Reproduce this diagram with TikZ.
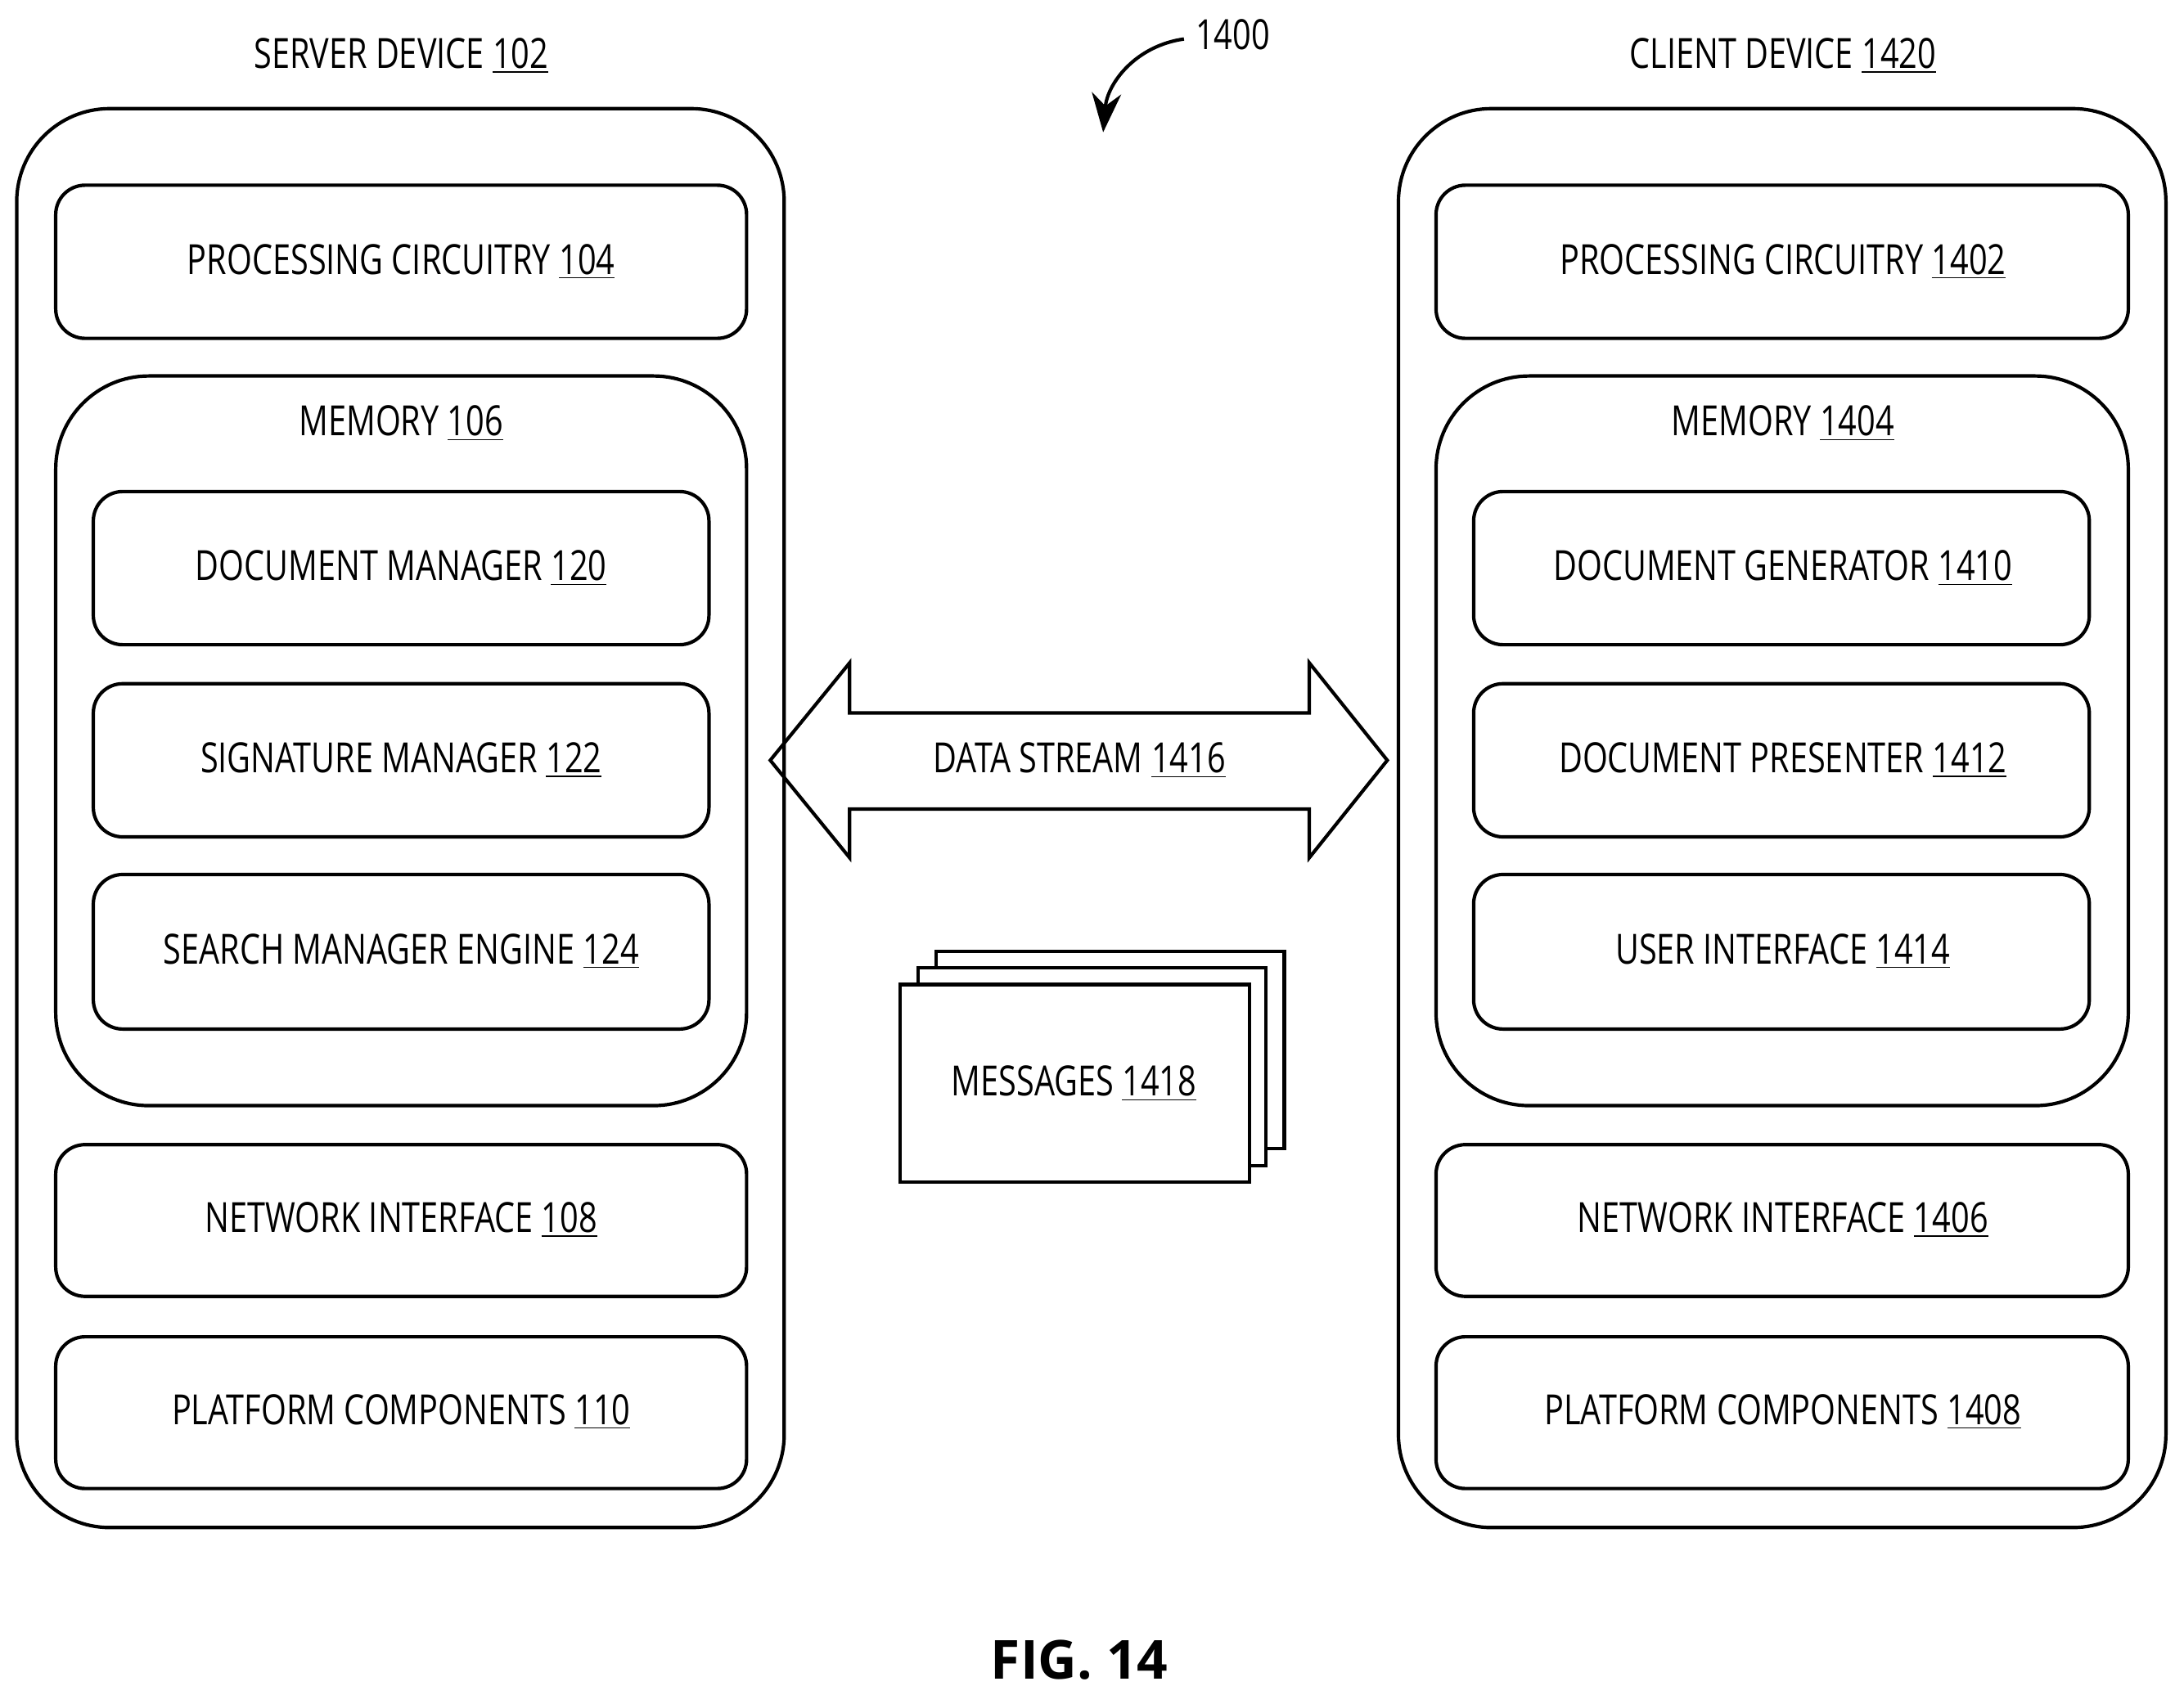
\documentclass[tikz,border=0pt]{standalone}
\usetikzlibrary{arrows.meta}
\usepackage{fontspec}
\setmainfont{Open Sans}
\usepackage{graphicx}
\begin{document}
\newcommand{\lb}[2]{\scalebox{0.78}[1]{#1 \underline{#2}}}
\begin{tikzpicture}[x=0.02cm,y=-0.02cm,line width=1.4pt,
  box/.style={draw,rounded corners=12},
  big/.style={draw,rounded corners=38},
  txt/.style={font=\fontsize{17}{20}\selectfont},
  ]
\useasboundingbox (0,0) rectangle (1568,1217);
% server
\draw[big] (12,78) rectangle (563,1097);
\node[txt] (st) at (288,40) {\lb{SERVER DEVICE}{102}};
\draw[box] (40,133) rectangle (536,243); \node[txt] (sp) at (288,188) {\lb{PROCESSING CIRCUITRY}{104}};
\draw[big] (40,270) rectangle (536,794); \node[txt] (sm) at (288,304) {\lb{MEMORY}{106}};
\draw[box] (67,353) rectangle (509,463); \node[txt] (s1) at (288,408) {\lb{DOCUMENT MANAGER}{120}};
\draw[box] (67,491) rectangle (509,601); \node[txt] (s2) at (288,546) {\lb{SIGNATURE MANAGER}{122}};
\draw[box] (67,628) rectangle (509,739); \node[txt] (s3) at (288,683) {\lb{SEARCH MANAGER ENGINE}{124}};
\draw[box] (40,822) rectangle (536,931); \node[txt] (sn) at (288,876) {\lb{NETWORK INTERFACE}{108}};
\draw[box] (40,960) rectangle (536,1069); \node[txt] (sf) at (288,1014) {\lb{PLATFORM COMPONENTS}{110}};
% client
\draw[big] (1004,78) rectangle (1555,1097);
\node[txt] (ct) at (1280,40) {\lb{CLIENT DEVICE}{1420}};
\draw[box] (1031,133) rectangle (1528,243); \node[txt] (cp) at (1280,188) {\lb{PROCESSING CIRCUITRY}{1402}};
\draw[big] (1031,270) rectangle (1528,794); \node[txt] (cm) at (1280,304) {\lb{MEMORY}{1404}};
\draw[box] (1058,353) rectangle (1500,463); \node[txt] (c1) at (1280,408) {\lb{DOCUMENT GENERATOR}{1410}};
\draw[box] (1058,491) rectangle (1500,601); \node[txt] (c2) at (1280,546) {\lb{DOCUMENT PRESENTER}{1412}};
\draw[box] (1058,628) rectangle (1500,739); \node[txt] (c3) at (1280,683) {\lb{USER INTERFACE}{1414}};
\draw[box] (1031,822) rectangle (1528,931); \node[txt] (cn) at (1280,876) {\lb{NETWORK INTERFACE}{1406}};
\draw[box] (1031,960) rectangle (1528,1069); \node[txt] (cf) at (1280,1014) {\lb{PLATFORM COMPONENTS}{1408}};
% data stream
\draw[line join=miter] (553,546) -- (610,476) -- (610,512) -- (940,512) -- (940,476) -- (996,546)
  -- (940,616) -- (940,581) -- (610,581) -- (610,616) -- cycle;
\node[txt] (ds) at (775,546) {\lb{DATA STREAM}{1416}};
% messages
\draw[fill=white] (672,683) rectangle (922,825);
\draw[fill=white] (659,695) rectangle (909,837);
\draw[fill=white] (646,707) rectangle (897,849);
\node[txt] (ms) at (771,778) {\lb{MESSAGES}{1418}};
% 1400
\node[txt] (n) at (885,25) {\scalebox{0.78}[1]{1400}};
\coordinate (a0) at (850,28);
\coordinate (a1) at (792,95);
\draw[-{Stealth[length=16pt,width=12pt]}] (a0) .. controls (815,33) and (795,60) .. (a1);
\node[font=\fontsize{22}{26}\selectfont\bfseries] (fig) at (775,1192) {FIG. 14};
\end{tikzpicture}
\end{document}
